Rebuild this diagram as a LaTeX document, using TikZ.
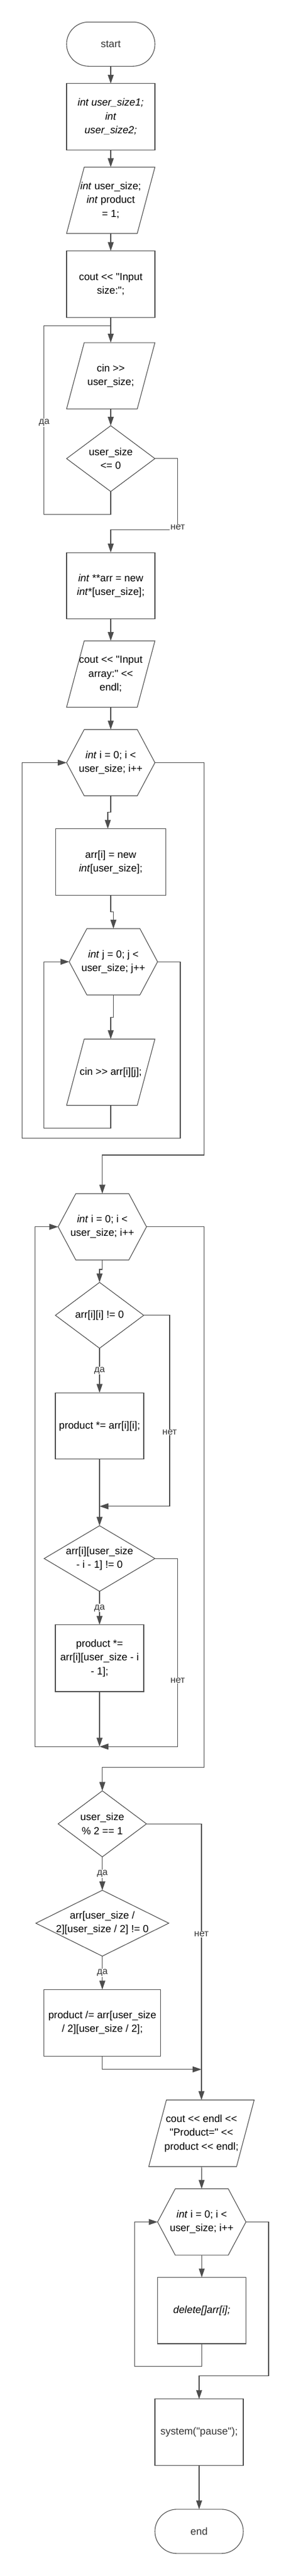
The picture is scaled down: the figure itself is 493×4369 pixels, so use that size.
\documentclass[tikz,border=0pt]{standalone}
\usepackage{fontspec}
\setmainfont{Liberation Sans}[Ligatures=TeXOff]
\usetikzlibrary{arrows.meta}
\definecolor{linegray}{HTML}{4D4D4D}
\definecolor{txtgray}{HTML}{333333}
\newcommand{\codefont}{\fontsize{17.4pt}{23.3pt}\selectfont}
\newcommand{\labfont}{\fontsize{16pt}{19pt}\selectfont}

\begin{document}
\begin{tikzpicture}[
    x=1pt, y=-1pt,
    shp/.style={rectangle, inner sep=0pt, outer sep=0pt, align=center, font=\codefont,
      minimum width=150pt, minimum height=112.5pt},
    blk/.style={shp, draw=linegray, line width=1.1pt},
    term/.style={blk, rounded corners=37.5pt, minimum height=75pt, text=txtgray},
    line/.style={draw=linegray, line width=1.1pt},
    arrow/.style={line, -{Triangle[length=15pt, width=10pt]}},
    lab/.style={fill=white, inner sep=1pt, font=\labfont, text=txtgray}
  ]
    \useasboundingbox (0,0) rectangle (493,4369);

    % Блоки (параллелограммы p, шестиугольники h и ромбы d без рамки)
    \node[term] (start) at (188,74.8) {start};
    \node[blk] (b1) at (188,198) {\textit{int user\_size1;}\\\textit{int}\\\textit{user\_size2;}};
    \node[shp] (p1) at (188,339.7) {\textit{int} user\_size;\\\textit{int} product\\= 1;};
    \node[blk] (b2) at (188,481.8) {cout << "Input\\size:";};
    \node[shp] (p2) at (188,637.3) {cin >>\\user\_size;};
    \node[shp, minimum height=111.7pt] (d1) at (188,777.8) {user\_size\\<= 0};
    \node[blk] (b3) at (188,993.3) {\textit{int} **arr = new\\\textit{int}*[user\_size];};
    \node[shp] (p3) at (188,1143.2) {cout << "Input\\array:" <<\\endl;};
    \node[shp] (h1) at (188,1293.5) {\textit{int} i = 0; i <\\user\_size; i++};
    \node[blk, minimum width=187.3pt, minimum height=113pt] (b4) at (188,1462.2) {arr[i] = new\\\textit{int}[user\_size];};
    \node[shp] (h2) at (192.5,1631.2) {\textit{int} j = 0; j <\\user\_size; j++};
    \node[shp] (p4) at (188,1818.5) {cin >> arr[i][j];};
    \node[shp] (h3) at (173.7,2080.7) {\textit{int} i = 0; i <\\user\_size; i++};
    \node[shp, minimum height=111.7pt] (d2) at (169,2230.8) {arr[i][i] != 0};
    \node[blk] (b5) at (169,2418.5) {product *= arr[i][i];};
    \node[shp, minimum width=188pt, minimum height=111.3pt] (d3) at (169,2643.3) {arr[i][user\_size\\- i - 1] != 0};
    \node[blk, minimum height=113.3pt] (b6) at (169,2812.3) {product *=\\arr[i][user\_size - i\\- 1];};
    \node[shp, minimum height=112pt] (d4) at (173.7,3093.3) {user\_size\\\% 2 == 1};
    \node[shp, minimum width=225.7pt, minimum height=111.7pt] (d5) at (173.7,3261.8) {arr[user\_size /\\2][user\_size / 2] != 0};
    \node[blk, minimum width=197.6pt, minimum height=112.7pt] (b7) at (173.7,3430.7) {product /= arr[user\_size\\/ 2][user\_size / 2];};
    \node[shp, minimum width=179pt, minimum height=113pt] (p5) at (342,3618.2) {cout << endl <<\\"Product=" <<\\product << endl;};
    \node[shp] (h4) at (342.5,3768.5) {\textit{int} i = 0; i <\\user\_size; i++};
    \node[blk] (b8) at (342.5,3918.7) {\textit{delete[]arr[i];}};
    \node[blk, text=txtgray] (b9) at (338,4125) {system("pause");};
    \node[term] (end) at (338,4293.3) {end};

    % Рамки: ввод/вывод
    \foreach \i in {1,...,5} {
      \draw[line] ([xshift=30pt]p\i.north west) -- (p\i.north east)
        -- ([xshift=-30pt]p\i.south east) -- (p\i.south west) -- cycle;
    }
    % Рамки: циклы
    \foreach \i in {1,...,4} {
      \draw[line] (h\i.west) -- ([xshift=30pt]h\i.north west) -- ([xshift=-30pt]h\i.north east)
        -- (h\i.east) -- ([xshift=-30pt]h\i.south east) -- ([xshift=30pt]h\i.south west) -- cycle;
    }
    % Рамки: условия
    \foreach \i in {1,...,5} {
      \draw[line] (d\i.north) -- (d\i.east) -- (d\i.south) -- (d\i.west) -- cycle;
    }

    % Точки слияния
    \coordinate (j1) at (188,552.7);
    \coordinate (m1) at (169,2554.7);
    \coordinate (m2) at (169,2962.3);
    \coordinate (m3) at (342,3509.7);

    % Связи
    \draw[arrow] (start) -- (b1);
    \draw[arrow] (b1) -- (p1);
    \draw[arrow] (p1) -- (b2);
    \draw[line] (b2) -- (j1);
    \draw[arrow] (j1) -- (p2);
    \draw[arrow] (p2) -- (d1);
    \draw[line] (d1.south) -- ++(0,38.6) -| (74.3,552.7) -- (j1);
    \draw[arrow] (d1.east) -| (301.7,898.7) -| (b3.north);
    \draw[arrow] (b3) -- (p3);
    \draw[arrow] (p3) -- (h1);
    \draw[arrow] (h1.south) -- ++(0,28) -| ([xshift=-5pt]b4.north);
    \draw[arrow] (b4.south) -- ++(0,28) -| (h2.north);
    \draw[arrow] (h2.south) -- ++(0,37.7) -| (p4.north);
    \draw[arrow] (p4.south) -- ++(0,38.8) -| (74.3,1631.2) -- (h2.west);
    \draw[arrow] (h2.east) -| (306,1930.7) -| (37.7,1293.5) -- (h1.west);
    \draw[arrow] (h1.east) -| (346.7,1959) -| (h3.north);

    \draw[arrow] (h3.south) -- ++(0,16) -| (d2.north);
    \draw[arrow] (d2.south) -- node[lab] (yes2) {да} (b5.north);
    \draw[arrow] (b5) -- (d3);
    \draw[arrow] (d2.east) -| (288,2554.7) -- (m1);
    \draw[arrow] (d3.south) -- node[lab] (yes3) {да} (b6.north);
    \draw[arrow] (b6) -- (m2);
    \draw[arrow] (d3.east) -| (301.7,2962.3) -- (m2);
    \draw[arrow] (m2) -| (59.7,2080.7) -- (h3.west);
    \draw[arrow] (h3.east) -| (346.7,2997.7) -| (d4.north);

    \draw[arrow] (d4.south) -- node[lab] (yes4) {да} (d5.north);
    \draw[arrow] (d5.south) -- node[lab] (yes5) {да} (b7.north);
    \draw[arrow] (d4.east) -| (p5.north);
    \draw[arrow] (b7.south) |- (m3);
    \draw[arrow] (p5) -- (h4);
    \draw[arrow] (h4) -- (b8);
    \draw[arrow] (b8.south) -- ++(0,38.3) -| (228.7,3768.5) -- (h4.west);
    \draw[arrow] (h4.east) -| (456,4029.7) -| (b9.north);
    \draw[arrow] (b9) -- (end);

    % Подписи на ветвях
    \node[lab] (yes1) at (75,716.7) {да};
    \node[lab] (no1) at (301.7,894) {нет};
    \node[lab] (no2) at (288,2429) {нет};
    \node[lab] (no3) at (301.7,2850) {нет};
    \node[lab] (no4) at (342,3280.3) {нет};
  \end{tikzpicture}
\end{document}
